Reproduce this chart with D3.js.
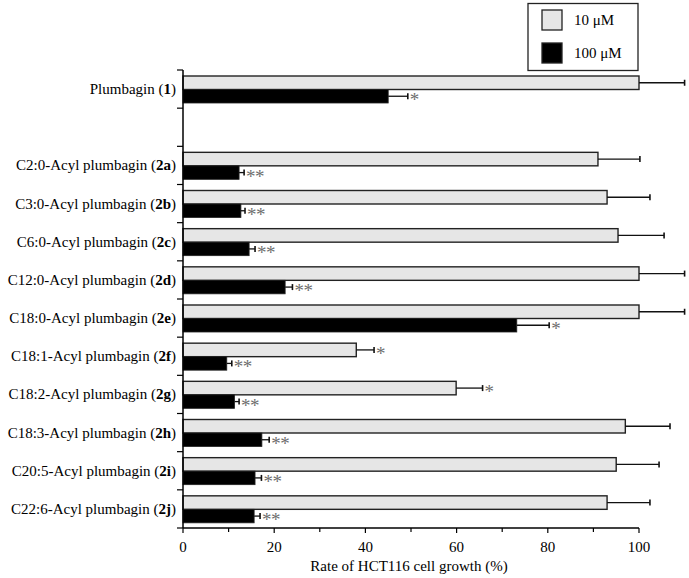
<!DOCTYPE html>
<html><head><meta charset="utf-8">
<script src="https://cdn.jsdelivr.net/npm/d3@7"></script>
<style>body{margin:0;background:#fff}svg{display:block}</style>
</head><body>
<script>
const names = ["Plumbagin", "", "C2:0-Acyl plumbagin", "C3:0-Acyl plumbagin", "C6:0-Acyl plumbagin", "C12:0-Acyl plumbagin", "C18:0-Acyl plumbagin", "C18:1-Acyl plumbagin", "C18:2-Acyl plumbagin", "C18:3-Acyl plumbagin", "C20:5-Acyl plumbagin", "C22:6-Acyl plumbagin"];
const ids = ["1", "", "2a", "2b", "2c", "2d", "2e", "2f", "2g", "2h", "2i", "2j"];
const series = ["10 μM", "100 μM"];
const v10 = [100, null, 91, 93, 95.4, 100, 100, 38, 59.9, 97, 95, 93];
const e10 = [10, null, 9.2, 9.4, 10.1, 10, 10, 3.9, 5.8, 9.8, 9.4, 9.4];
const v100 = [45, null, 12.3, 12.7, 14.5, 22.4, 73.2, 9.6, 11.3, 17.3, 15.8, 15.6];
const e100 = [4.3, null, 1.1, 0.9, 1.3, 1.6, 7.1, 1.1, 1.0, 1.6, 1.4, 1.3];
const sig10 = ["", "", "", "", "", "", "", "*", "*", "", "", ""];
const sig100 = ["*", "", "**", "**", "**", "**", "*", "**", "**", "**", "**", "**"];
const xTicks = [0, 20, 40, 60, 80, 100];
const xMinor = [10, 30, 50, 70, 90];

const W = 689, H = 578;
const svg = d3.select("body").append("svg").attr("width", W).attr("height", H);
const font = "'Liberation Serif','Times New Roman',serif";
const fs = 15;

const x = d3.scaleLinear().domain([0, 100]).range([183, 639]);
const y = d3.scaleBand().domain(d3.range(names.length)).range([70, 528]).padding(0);
const bw = y.bandwidth();
const sub = d3.scaleBand().domain(series).range([6, 33]).padding(0);

const fills = ["#e6e6e6", "#000"];
const vals = [v10, v100], errs = [e10, e100], sigs = [sig10, sig100];

series.forEach((s, si) => {
  names.forEach((n, i) => {
    const v = vals[si][i];
    if (v == null) return;
    const y0 = y(i) + sub(s);
    const h = sub.bandwidth();
    const cy = y0 + h / 2;
    svg.append("rect").attr("x", x(0)).attr("y", y0).attr("width", x(v) - x(0)).attr("height", h)
      .attr("fill", fills[si]).attr("stroke", "#222").attr("stroke-width", si === 0 ? 1.4 : 0.8);
    const xe = x(v + errs[si][i]);
    svg.append("line").attr("x1", x(v)).attr("x2", xe).attr("y1", cy).attr("y2", cy).attr("stroke", "#111").attr("stroke-width", 1.3);
    svg.append("line").attr("x1", xe).attr("x2", xe).attr("y1", cy - 3).attr("y2", cy + 3).attr("stroke", "#111").attr("stroke-width", 1.6);
    const sg = sigs[si][i];
    if (sg) svg.append("text").attr("x", xe + 2).attr("y", cy + 10).attr("font-family", font).attr("font-size", 19)
      .attr("fill", "#6e6e6e").attr("letter-spacing", -0.5).text(sg);
  });
});

// y axis
svg.append("line").attr("x1", 183).attr("x2", 183).attr("y1", 70).attr("y2", 528).attr("stroke", "#000").attr("stroke-width", 1.5);
d3.range(names.length + 1).forEach(k => {
  const yy = 70 + k * bw;
  svg.append("line").attr("x1", 177).attr("x2", 183).attr("y1", yy).attr("y2", yy).attr("stroke", "#000").attr("stroke-width", 1.2);
});
names.forEach((n, i) => {
  if (!n) return;
  const t = svg.append("text").attr("x", 176).attr("y", y(i) + bw / 2 + 5).attr("text-anchor", "end")
    .attr("font-family", font).attr("font-size", fs).attr("fill", "#000");
  t.append("tspan").text(n + " (");
  t.append("tspan").attr("font-weight", "bold").text(ids[i]);
  t.append("tspan").text(")");
});

// x axis
const gx = svg.append("g").attr("transform", "translate(0,528)");
gx.append("line").attr("x1", x(0)).attr("x2", x(100)).attr("stroke", "#000").attr("stroke-width", 1.5);
xTicks.forEach(t => {
  gx.append("line").attr("x1", x(t)).attr("x2", x(t)).attr("y1", 0).attr("y2", 5).attr("stroke", "#000").attr("stroke-width", 1.2);
  gx.append("text").attr("x", x(t)).attr("y", 24).attr("text-anchor", "middle").attr("font-family", font).attr("font-size", fs).text(t);
});
xMinor.forEach(t => {
  gx.append("line").attr("x1", x(t)).attr("x2", x(t)).attr("y1", 0).attr("y2", 4).attr("stroke", "#000").attr("stroke-width", 1.2);
});
svg.append("text").attr("x", 409).attr("y", 571).attr("text-anchor", "middle").attr("font-family", font).attr("font-size", fs)
  .text("Rate of HCT116 cell growth (%)");

// legend
const lg = svg.append("g");
lg.append("rect").attr("x", 528).attr("y", 3.5).attr("width", 110).attr("height", 67).attr("fill", "#fff").attr("stroke", "#222").attr("stroke-width", 1.3);
series.forEach((s, si) => {
  const yy = 10 + si * 33;
  lg.append("rect").attr("x", 542).attr("y", yy).attr("width", 20).attr("height", 20).attr("fill", fills[si]).attr("stroke", "#222").attr("stroke-width", 1.3);
  lg.append("text").attr("x", 574).attr("y", yy + 15).attr("font-family", font).attr("font-size", fs).text(s);
});
</script>
</body></html>
